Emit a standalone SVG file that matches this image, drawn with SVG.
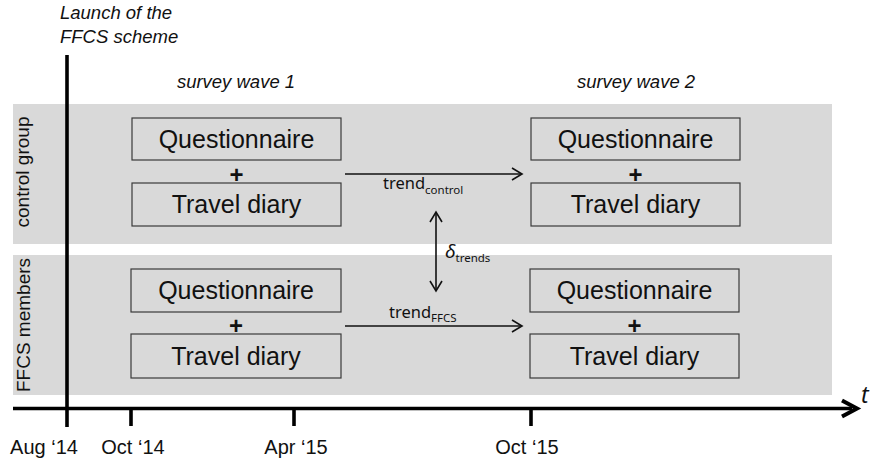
<svg xmlns="http://www.w3.org/2000/svg" width="873" height="462" viewBox="0 0 873 462">
<defs>
<style>
.band{fill:#d9d9d9}
.box{fill:none;stroke:#3a3a3a;stroke-width:1.2}
.bt{font-family:"Liberation Sans",Arial,sans-serif;font-size:25px;fill:#111;text-anchor:middle}
.plus{font-family:"Liberation Sans",Arial,sans-serif;font-size:24px;font-weight:bold;fill:#111;text-anchor:middle}
.it{font-family:"Liberation Sans",Arial,sans-serif;font-style:italic;font-size:18.5px;fill:#111}
.grp{font-family:"Liberation Sans",Arial,sans-serif;font-size:19px;fill:#111;text-anchor:middle}
.ax{font-family:"Liberation Sans",Arial,sans-serif;font-size:20px;fill:#111;text-anchor:middle}
.tr{font-family:"Noto Sans","Open Sans",sans-serif;font-size:16.5px;fill:#111}
.sub{font-size:11.5px;font-style:normal}
.conn{fill:none;stroke:#111;stroke-width:1.6}
.head{fill:none;stroke:#111;stroke-width:1.6;stroke-linejoin:miter}
.thick{fill:none;stroke:#000;stroke-width:3.6}
</style>
</defs>
<g id="background">
<rect class="band" x="13" y="104" width="819" height="140"/>
<rect class="band" x="13" y="255" width="819" height="140"/>
</g>
<g id="labels">
<text class="it" x="60" y="19">Launch of the</text>
<text class="it" x="60" y="43">FFCS scheme</text>
<text class="it" x="236" y="88" text-anchor="middle">survey wave 1</text>
<text class="it" x="636" y="88" text-anchor="middle">survey wave 2</text>
<text class="grp" transform="translate(29,172) rotate(-90)">control group</text>
<text class="grp" transform="translate(30,325) rotate(-90)">FFCS members</text>
</g>
<g id="timeline">
<line class="thick" x1="67" y1="55" x2="67" y2="427"/>
<line class="thick" x1="13" y1="408.5" x2="852" y2="408.5"/>
<path d="M842,400.5 L857,408.5 L842,416.5" fill="none" stroke="#000" stroke-width="4" stroke-linejoin="miter"/>
<line class="thick" x1="131" y1="408" x2="131" y2="426"/>
<line class="thick" x1="294" y1="408" x2="294" y2="426"/>
<line class="thick" x1="531" y1="408" x2="531" y2="426"/>
<text class="tr" x="861" y="403" style="font-style:italic;font-size:23px">t</text>
<text class="ax" x="44" y="454">Aug ‘14</text>
<text class="ax" x="133" y="454">Oct ‘14</text>
<text class="ax" x="296" y="454">Apr ‘15</text>
<text class="ax" x="527" y="454">Oct ‘15</text>
</g>
<g id="control-wave1">
<rect class="box" x="132" y="118" width="209" height="42"/>
<text class="bt" x="236.5" y="148">Questionnaire</text>
<text class="plus" x="236.5" y="183">+</text>
<rect class="box" x="132" y="183" width="209" height="43"/>
<text class="bt" x="236.5" y="213">Travel diary</text>
</g>
<g id="control-wave2">
<rect class="box" x="531" y="118" width="209" height="42"/>
<text class="bt" x="635.5" y="148">Questionnaire</text>
<text class="plus" x="635.5" y="183">+</text>
<rect class="box" x="531" y="183" width="209" height="43"/>
<text class="bt" x="635.5" y="213">Travel diary</text>
</g>
<g id="ffcs-wave1">
<rect class="box" x="131" y="269" width="210" height="43"/>
<text class="bt" x="236" y="299">Questionnaire</text>
<text class="plus" x="236" y="334">+</text>
<rect class="box" x="131" y="334" width="210" height="44"/>
<text class="bt" x="236" y="365">Travel diary</text>
</g>
<g id="ffcs-wave2">
<rect class="box" x="530" y="269" width="209" height="43"/>
<text class="bt" x="634.5" y="299">Questionnaire</text>
<text class="plus" x="634.5" y="334">+</text>
<rect class="box" x="530" y="334" width="209" height="44"/>
<text class="bt" x="634.5" y="365">Travel diary</text>
</g>
<g id="connectors">
<line class="conn" x1="345" y1="174" x2="521" y2="174"/>
<path class="head" d="M512,168 L522,174 L512,180"/>
<line class="conn" x1="345" y1="326" x2="521" y2="326"/>
<path class="head" d="M512,320 L522,326 L512,332"/>
<line class="conn" x1="436" y1="213" x2="436" y2="290"/>
<path class="head" d="M430,222 L436,212 L442,222"/>
<path class="head" d="M430,281 L436,291 L442,281"/>
<text class="tr" x="383" y="189">trend<tspan class="sub" dy="5">control</tspan></text>
<text class="tr" x="389" y="318">trend<tspan class="sub" dy="4">FFCS</tspan></text>
<text class="tr" x="445" y="258" style="font-style:italic;font-size:19px">δ<tspan class="sub" dy="4">trends</tspan></text>
</g>
</svg>
